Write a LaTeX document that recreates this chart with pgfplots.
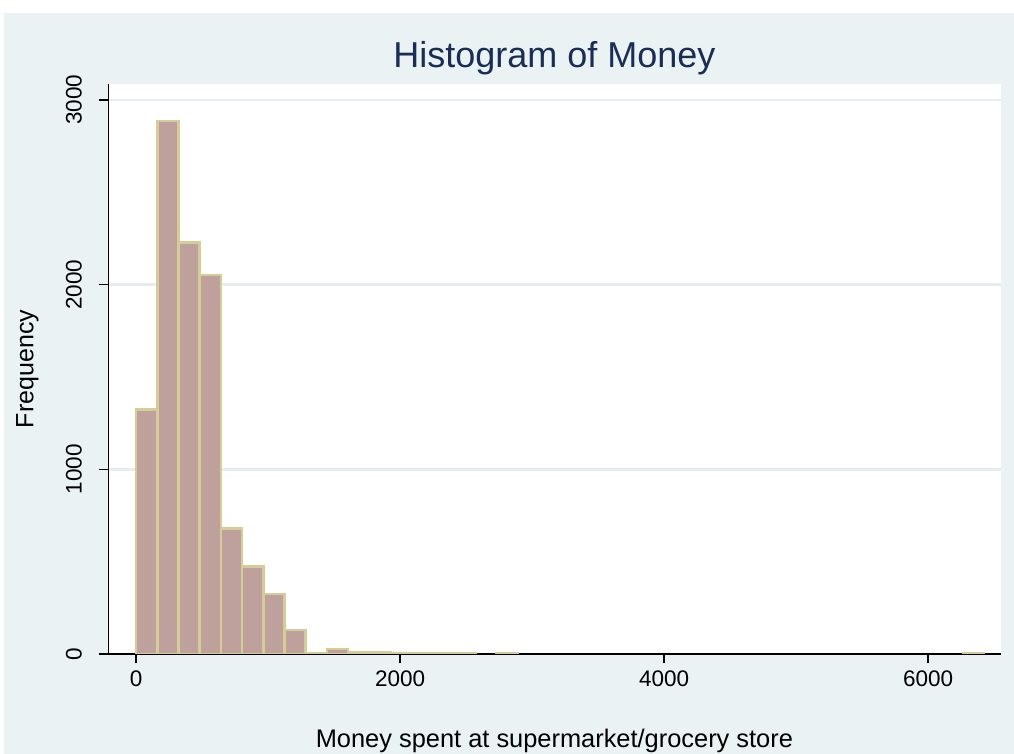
\documentclass[border=0pt]{standalone}
\usepackage{fontspec}
\setmainfont{Liberation Sans}
\usepackage{pgfplots}
\pgfplotsset{compat=1.18}
\pgfplotsset{layers/mylayers/.define layer set={axis background,axis grid,main,axis ticks,axis lines,axis tick labels,axis descriptions,axis foreground}{}}
\definecolor{bgc}{RGB}{234,242,243}
\definecolor{gridc}{RGB}{228,237,239}
\definecolor{barfill}{RGB}{190,160,156}
\definecolor{baredge}{RGB}{214,204,152}
\definecolor{titlec}{RGB}{26,46,85}
\begin{document}
\begin{tikzpicture}
\pgfplotsset{set layers=mylayers}
\begin{pgfonlayer}{axis background}
\fill[white] (0pt,0pt) rectangle (1014pt,754pt);
\fill[bgc] (3.5pt,0pt) rectangle (1014pt,741.3pt);
\end{pgfonlayer}
\begin{axis}[
  at={(108.3pt,100pt)}, anchor=south west,
  scale only axis, width=892.2pt, height=570pt,
  xmin=-210, xmax=6549, ymin=0, ymax=3086,
  axis x line*=bottom, axis y line*=left,
  axis line style={black, line width=1.5pt, -},
  axis background/.style={fill=white},
  xtick={0,2000,4000,6000}, ytick={0,1000,2000,3000},
  scaled ticks=false,
  /pgf/number format/.cd, 1000 sep={}, assume math mode=true, /pgfplots/.cd,
  tick align=outside, major tick length=9.5pt,
  tick style={black, line width=1.5pt},
  ymajorgrids, grid style={gridc, line width=2.5pt},
  xticklabel style={font=\fontsize{22.5}{27}\selectfont, anchor=base, inner sep=0pt},
  xticklabel shift=23.5pt,
  yticklabel style={font=\fontsize{22.5}{27}\selectfont, rotate=90, anchor=base, inner sep=0pt},
  yticklabel shift=17.1pt,
  title={Histogram of Money},
  title style={font=\fontsize{36}{42}\selectfont, color=titlec, at={(rel axis cs:0.5,1)}, anchor=base, inner sep=0pt, yshift=10.7pt},
  xlabel={Money spent at supermarket/grocery store},
  xlabel style={font=\fontsize{25.4}{30}\selectfont, at={(rel axis cs:0.5,0)}, anchor=base, inner sep=0pt, yshift=-94pt},
  ylabel={Frequency},
  ylabel style={font=\fontsize{25}{30}\selectfont, at={(rel axis cs:-0.08406,0.5)}, anchor=base, inner sep=0pt},
]
\addplot[ybar interval, fill=barfill, draw=baredge, line width=2.6pt] coordinates {
(0,1325) (160.6,2886) (321.2,2229) (481.8,2052) (642.4,680) (803,475)
(963.6,325) (1124.2,130) (1284.8,2) (1445.4,27) (1606,8) (1766.6,9)
(1927.2,3) (2087.8,3) (2248.4,6) (2409,5) (2569.6,0)};
\addplot[ybar interval, fill=barfill, draw=baredge, line width=2.6pt] coordinates {
(2730.2,5) (2890.8,0)};
\addplot[ybar interval, fill=barfill, draw=baredge, line width=2.6pt] coordinates {
(6263.4,3) (6424,0)};
\end{axis}
\end{tikzpicture}
\end{document}
